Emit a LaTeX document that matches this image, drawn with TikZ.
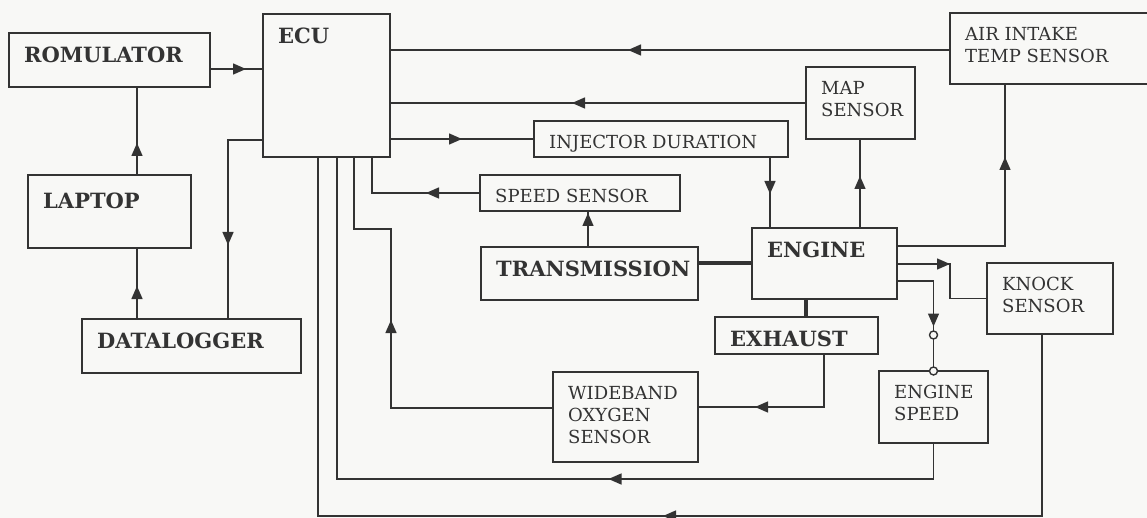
\documentclass[tikz,border=0pt]{standalone}
\usepackage{fontspec}
\setmainfont{DejaVu Serif}
\usepackage{xcolor}
\definecolor{cLine}{HTML}{333333}
\definecolor{cPaper}{HTML}{F8F8F6}
\usepackage{tikz}
\usetikzlibrary{arrows.meta,decorations.markings}
\tikzset{
  node-box/.style={draw=cLine,line width=1.4pt,anchor=north west,
    inner sep=0pt,outer sep=0pt},
  text-bold/.style={font=\fontsize{21}{25}\selectfont\bfseries,text=cLine,
    anchor=north west,inner sep=0pt,align=left,xshift=15pt,yshift=-14pt},
  text-plain/.style={font=\fontsize{18}{22}\selectfont,text=cLine,
    anchor=north west,inner sep=0pt,align=left,xshift=15pt,yshift=-14pt},
  box-bold/.style={label={[text-bold]north west:#1}},
  box-plain/.style={label={[text-plain]north west:#1}},
  link/.style={draw=cLine,line width=1.4pt},
  link-thick/.style={draw=cLine,line width=4pt},
  % filled tip somewhere along the line, distance from the start
  arrow-mid/.style={link,postaction={decorate},decoration={markings,
    mark=at position #1 with {\arrow{Triangle[length=13pt,width=11pt]}}}},
}
\begin{document}
\begin{tikzpicture}[x=1pt,y=-1pt]
  \path[use as bounding box,fill=cPaper] (0,0) rectangle (1147,518);

  % left column
  \node[node-box,minimum width=201pt,minimum height=54pt,box-bold=ROMULATOR] (rom) at (9,33) {};
  \node[node-box,minimum width=163pt,minimum height=73pt,
    label={[text-bold,yshift=-4pt]north west:LAPTOP}] (lap) at (28,175) {};
  \node[node-box,minimum width=219pt,minimum height=54pt,box-bold=DATALOGGER] (dlog) at (82,319) {};
  \node[node-box,minimum width=127pt,minimum height=143pt,box-bold=ECU] (ecu) at (263,14) {};

  % middle
  \node[node-box,minimum width=254pt,minimum height=36pt,box-plain={INJECTOR DURATION}] (inj) at (534,121) {};
  \node[node-box,minimum width=200pt,minimum height=36pt,box-plain={SPEED SENSOR}] (spd) at (480,175) {};
  \node[node-box,minimum width=217pt,minimum height=53pt,box-bold=TRANSMISSION] (trans) at (481,247) {};
  \node[node-box,minimum width=145pt,minimum height=71pt,box-bold=ENGINE] (eng) at (752,228) {};
  \node[node-box,minimum width=163pt,minimum height=37pt,box-bold=EXHAUST] (exh) at (715,317) {};
  \node[node-box,minimum width=145pt,minimum height=90pt,box-plain={WIDEBAND\\OXYGEN\\SENSOR}] (wide) at (553,372) {};

  % right
  \node[node-box,minimum width=109pt,minimum height=72pt,box-plain={MAP\\SENSOR}] (map) at (806,67) {};
  \node[node-box,minimum width=204pt,minimum height=71pt,box-plain={AIR INTAKE\\TEMP SENSOR}] (air) at (950,13) {};
  \node[node-box,minimum width=126pt,minimum height=71pt,box-plain={KNOCK\\SENSOR}] (knock) at (987,263) {};
  \node[node-box,minimum width=109pt,minimum height=72pt,box-plain={ENGINE\\SPEED}] (espd) at (879,371) {};

  % links round the ECU
  \draw[arrow-mid=36pt] (rom.east |- 0,69) -- (ecu.west |- 0,69);
  \draw[arrow-mid=32pt] (lap.north -| 137,0) -- (rom.south -| 137,0);
  \draw[arrow-mid=33pt] (dlog.north -| 137,0) -- (lap.south -| 137,0);
  \draw[arrow-mid=140pt] (ecu.west |- 0,140) -| (dlog.north -| 228,0);
  \draw[arrow-mid=322pt] (air.west |- 0,50) -- (ecu.east |- 0,50);
  \draw[arrow-mid=234pt] (map.west |- 0,103) -- (ecu.east |- 0,103);
  \draw[arrow-mid=72pt] (ecu.east |- 0,139) -- (inj.west |- 0,139);
  \draw[arrow-mid=54pt] (spd.west) -| (ecu.south -| 372,0);
  \draw[arrow-mid=34pt] (trans.north -| 588,0) -- (spd.south -| 588,0);

  % engine and its sensors
  \draw[link-thick] (trans.east |- 0,263) -- (eng.west |- 0,263);
  \draw[link-thick] (eng.south -| 806,0) -- (exh.north -| 806,0);
  \draw[arrow-mid=37pt] (inj.south -| 770,0) -- (eng.north -| 770,0);
  \draw[arrow-mid=52pt] (eng.north -| 860,0) -- (map.south -| 860,0);
  \draw[arrow-mid=197pt] (eng.east |- 0,246) -| (air.south -| 1005,0);
  \draw[arrow-mid=53pt] (eng.east |- 0,264) -- (950,264) |- (knock.west);
  \draw[arrow-mid=82pt] (eng.east |- 0,281) -| (espd.north);
  \draw[link,fill=cPaper] (espd.north |- 0,335) circle[radius=4pt];
  \draw[link,fill=cPaper] (espd.north) circle[radius=4pt];

  % feedback to the ECU
  \draw[arrow-mid=122pt] (exh.south -| 824,0) |- (wide.east |- 0,407);
  \draw[arrow-mid=250pt] (wide.west |- 0,408) -| (391,229) -| (ecu.south -| 354,0);
  \draw[arrow-mid=361pt] (espd.south) -- (espd.south |- 0,479) -| (ecu.south -| 337,0);
  \draw[arrow-mid=561pt] (knock.south -| 1042,0) -- (1042,516) -| (ecu.south -| 318,0);
\end{tikzpicture}
\end{document}
